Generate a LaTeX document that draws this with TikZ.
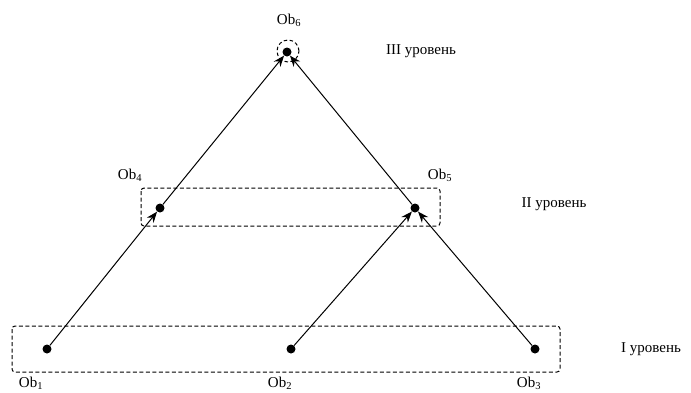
\documentclass[tikz,border=0pt]{standalone}
\usepackage{fontspec}
\setmainfont{Liberation Serif}
\usetikzlibrary{arrows.meta}
\begin{document}
\begin{tikzpicture}[x=1pt,y=-1pt,
  dot/.style={circle,fill=black,inner sep=0pt,minimum size=9pt},
  lbl/.style={font=\fontsize{15}{17}\selectfont,inner sep=0pt},
  conn/.style={-{Stealth[length=11pt,width=8.5pt]},line width=1pt},
  group/.style={draw,line width=1pt,dash pattern=on 4pt off 2.5pt,rounded corners=3pt}]
\useasboundingbox (0,0) rectangle (691,392);
% level boxes
\draw[group] (12,326) rectangle (560,372);
\draw[group] (141,188) rectangle (440,226);
% nodes
\node[dot] (o1) at (47,349) {};
\node[dot] (o2) at (291,349) {};
\node[dot] (o3) at (535,349) {};
\node[dot] (o4) at (160,208) {};
\node[dot] (o5) at (415,208) {};
\node[dot] (o6) at (287,52) {};
\node[draw,circle,minimum size=22pt,inner sep=0pt,line width=1pt,dash pattern=on 3.5pt off 2.5pt] (c6) at (288,51) {};
% labels
\node[lbl] (l1) at (31,383) {Ob\textsubscript{1}};
\node[lbl] (l2) at (280,383) {Ob\textsubscript{2}};
\node[lbl] (l3) at (529,383) {Ob\textsubscript{3}};
\node[lbl] (l4) at (130,175) {Ob\textsubscript{4}};
\node[lbl] (l5) at (440,175) {Ob\textsubscript{5}};
\node[lbl] (l6) at (289,20) {Ob\textsubscript{6}};
\node[lbl] (t3) at (421,51) {III уровень};
\node[lbl] (t2) at (554,204) {II уровень};
\node[lbl] (t1) at (651,349) {I уровень};
% connectors
\draw[conn] (o1) -- (o4);
\draw[conn] (o2) -- (o5);
\draw[conn] (o3) -- (o5);
\draw[conn] (o4) -- (o6);
\draw[conn] (o5) -- (o6);
\end{tikzpicture}
\end{document}
